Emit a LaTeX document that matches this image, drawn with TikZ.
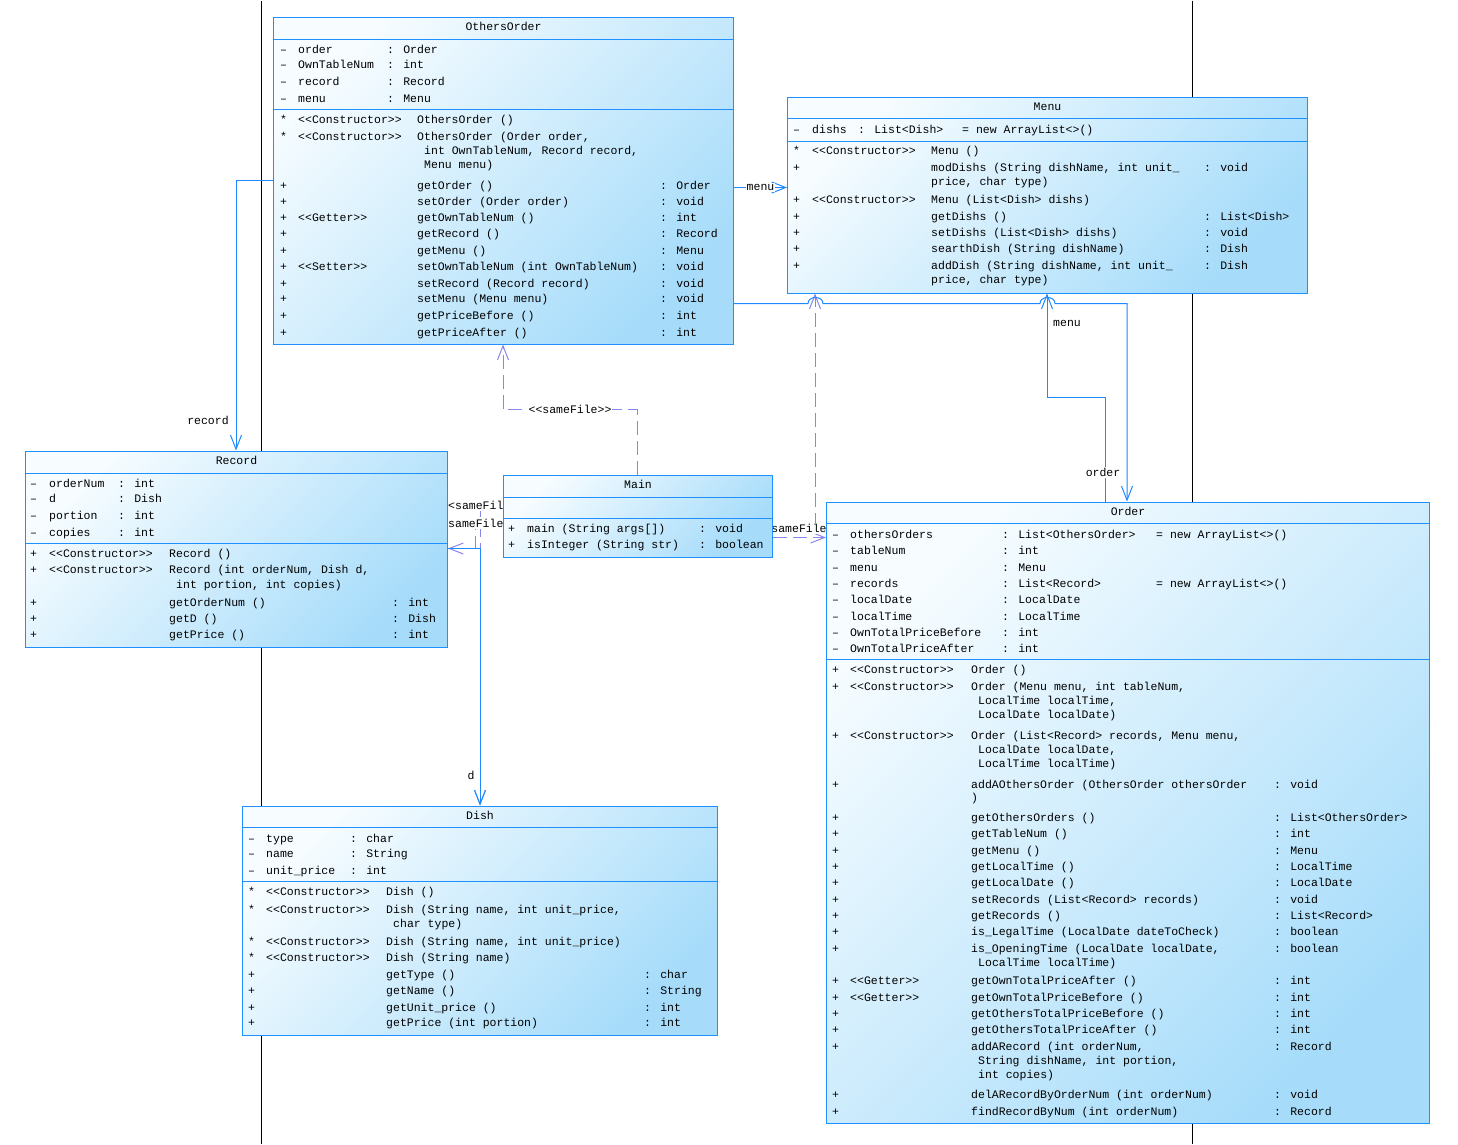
\documentclass[tikz,border=0pt]{standalone}
\usepackage{fontspec}
\usepackage{tikz}
\usetikzlibrary{arrows.meta}

\newfontfamily\umlmono{Liberation Mono}
\newcommand\umlfont{\umlmono\fontsize{11.5}{13}\selectfont}

\definecolor{umlblue}{RGB}{30,144,255}
\definecolor{shadeL}{RGB}{246,252,255}
\definecolor{shadeD}{RGB}{166,220,250}
\definecolor{linkblue}{RGB}{30,136,255}
\definecolor{deplav}{RGB}{136,136,236}

% column positions of the current compartment
\newcommand\setcols[5]{\def\cV{#1}\def\cS{#2}\def\cN{#3}\def\cT{#4}\def\cC{#5}}
\newcommand\urow[5]{%
  \node[txt] (\cls#1a) at (\cV,#1+4) {#2};
  \node[txt] (\cls#1b) at (\cS,#1+4) {#3};
  \node[txt] (\cls#1c) at (\cN,#1+4) {#4};
  \node[txt] (\cls#1d) at (\cT,#1+4) {#5};}
\newcommand\crow[2]{\node[txt] (\cls#1e) at (\cC,#1+4) {#2};}

\begin{document}
\begin{tikzpicture}[x=1pt, y=-1pt,
  cls/.style={draw=umlblue, line width=1pt, top color=shadeL, bottom color=shadeD, shading angle=45, anchor=north west, inner sep=0pt},
  sepl/.style={draw=umlblue, line width=1pt},
  txt/.style={anchor=base west, inner sep=0pt, font=\umlfont},
  ttl/.style={anchor=base, inner sep=0pt, font=\umlfont},
  lbl/.style={fill=white, inner sep=1pt, font=\umlfont},
  assoc/.style={draw=linkblue, line width=1pt, -{Straight Barb[length=14pt, width=11pt]}},
  dep/.style={draw=deplav, line width=1pt, dash pattern=on 14pt off 6pt, -{Straight Barb[length=14pt, width=11pt]}},
  pageln/.style={draw=black, line width=1pt}]
\path[fill=white] (0,0) rectangle (1458,1143);
\draw[pageln] (261,0) -- (261,1143);
\draw[pageln] (1192,0) -- (1192,1143);

% class frames (empty, text goes on top later)
\path (273,16) node[cls, minimum width=460pt, minimum height=327pt] (oo) {}
      (787,96) node[cls, minimum width=520pt, minimum height=196pt] (mn) {}
      (25,450) node[cls, minimum width=422pt, minimum height=196pt] (rc) {}
      (503,474) node[cls, minimum width=269pt, minimum height=82pt] (mc) {}
      (242,805) node[cls, minimum width=475pt, minimum height=229pt] (ds) {}
      (826,501) node[cls, minimum width=603pt, minimum height=621pt] (od) {};

% dependencies from Main
\draw[dep] (637,0 |- mc.north) -- (637,409) -| (503,0 |- oo.south);
\draw[dep] (mc.west |- 0,505) -- (480,505) -- (480,0 |- ds.north);
\draw[dep] (mc.west |- 0,523) -- (475,523) -- (475,548) -- (rc.east |- 0,548);
\draw[dep] (mc.east |- 0,524) -- (815,524) -- (815,0 |- mn.south);
\draw[dep] (mc.east |- 0,537) -- (od.west |- 0,537);
\node[lbl] (sf1) at (570,409) {<<sameFile>>};
\node[lbl, anchor=west] (sf2) at (447,505) {<sameFile};
\node[lbl, anchor=west] (sf3) at (447,523) {sameFile};
\node[lbl] (sf4) at (799,528) {sameFile};

% associations
\draw[assoc] (oo.west |- 0,180) -| (236,0 |- rc.north);
\node[lbl] (lrec) at (208,420) {record};
\draw[assoc] (oo.east |- 0,187) -- (mn.west |- 0,187) node[lbl, midway] (lmn1) {menu};
\draw[assoc] (1105,0 |- od.north) -- (1105,397) -| (1047,0 |- mn.south);
\node[lbl] (lmn2) at (1067,323) {menu};
\draw[assoc] (oo.east |- 0,303) -- (808,303) .. controls (808,295) and (823,295) .. (823,303)
  -- (1040,303) .. controls (1040,295) and (1055,295) .. (1055,303) -| (1127,0 |- od.north);
\node[lbl] (lord) at (1103,472) {order};
\draw[assoc] (rc.east |- 0,548) -| (480,0 |- ds.north);
\node[lbl] (ld) at (471,775) {d};

% redraw frames over the connectors
\path (273,16) node[cls, minimum width=460pt, minimum height=327pt] {}
      (787,96) node[cls, minimum width=520pt, minimum height=196pt] {}
      (25,450) node[cls, minimum width=422pt, minimum height=196pt] {}
      (503,474) node[cls, minimum width=269pt, minimum height=82pt] {}
      (242,805) node[cls, minimum width=475pt, minimum height=229pt] {}
      (826,501) node[cls, minimum width=603pt, minimum height=621pt] {};

% OthersOrder
\def\cls{oo}
\node[ttl] (ootitle) at (oo.north |- 0,30) {OthersOrder};
\draw[sepl] (oo.west |- 0,39) -- (oo.east |- 0,39);
\draw[sepl] (oo.west |- 0,109) -- (oo.east |- 0,109);
\setcols{280}{298}{387}{0}{0}
\urow{49}{–}{order}{: Order}{}
\urow{64}{–}{OwnTableNum}{: int}{}
\urow{81}{–}{record}{: Record}{}
\urow{98}{–}{menu}{: Menu}{}
\setcols{280}{298}{417}{660}{424}
\urow{119}{*}{<<Constructor>>}{OthersOrder ()}{}
\urow{136}{*}{<<Constructor>>}{OthersOrder (Order order,}{}
\crow{150}{int OwnTableNum, Record record,}
\crow{164}{Menu menu)}
\urow{185}{+}{}{getOrder ()}{: Order}
\urow{201}{+}{}{setOrder (Order order)}{: void}
\urow{217}{+}{<<Getter>>}{getOwnTableNum ()}{: int}
\urow{233}{+}{}{getRecord ()}{: Record}
\urow{250}{+}{}{getMenu ()}{: Menu}
\urow{266}{+}{<<Setter>>}{setOwnTableNum (int OwnTableNum)}{: void}
\urow{283}{+}{}{setRecord (Record record)}{: void}
\urow{298}{+}{}{setMenu (Menu menu)}{: void}
\urow{315}{+}{}{getPriceBefore ()}{: int}
\urow{332}{+}{}{getPriceAfter ()}{: int}

% Menu
\def\cls{mn}
\node[ttl] (mntitle) at (mn.north |- 0,110) {Menu};
\draw[sepl] (mn.west |- 0,118) -- (mn.east |- 0,118);
\draw[sepl] (mn.west |- 0,141) -- (mn.east |- 0,141);
\setcols{793}{812}{858}{962}{0}
\urow{129}{–}{dishs}{: List<Dish>}{= new ArrayList<>()}
\setcols{793}{812}{931}{1204}{931}
\urow{150}{*}{<<Constructor>>}{Menu ()}{}
\urow{167}{+}{}{modDishs (String dishName, int unit\_}{: void}
\crow{181}{price, char type)}
\urow{199}{+}{<<Constructor>>}{Menu (List<Dish> dishs)}{}
\urow{216}{+}{}{getDishs ()}{: List<Dish>}
\urow{232}{+}{}{setDishs (List<Dish> dishs)}{: void}
\urow{248}{+}{}{searthDish (String dishName)}{: Dish}
\urow{265}{+}{}{addDish (String dishName, int unit\_}{: Dish}
\crow{279}{price, char type)}

% Record
\def\cls{rc}
\node[ttl] (rctitle) at (rc.north |- 0,464) {Record};
\draw[sepl] (rc.west |- 0,473) -- (rc.east |- 0,473);
\draw[sepl] (rc.west |- 0,543) -- (rc.east |- 0,543);
\setcols{30}{49}{118}{0}{0}
\urow{483}{–}{orderNum}{: int}{}
\urow{498}{–}{d}{: Dish}{}
\urow{515}{–}{portion}{: int}{}
\urow{532}{–}{copies}{: int}{}
\setcols{30}{49}{169}{392}{176}
\urow{553}{+}{<<Constructor>>}{Record ()}{}
\urow{569}{+}{<<Constructor>>}{Record (int orderNum, Dish d,}{}
\crow{584}{int portion, int copies)}
\urow{602}{+}{}{getOrderNum ()}{: int}
\urow{618}{+}{}{getD ()}{: Dish}
\urow{634}{+}{}{getPrice ()}{: int}

% Main
\def\cls{mc}
\node[ttl] (mctitle) at (mc.north |- 0,488) {Main};
\draw[sepl] (mc.west |- 0,497) -- (mc.east |- 0,497);
\draw[sepl] (mc.west |- 0,518) -- (mc.east |- 0,518);
\setcols{508}{527}{699}{0}{0}
\urow{528}{+}{main (String args[])}{: void}{}
\urow{544}{+}{isInteger (String str)}{: boolean}{}

% Dish
\def\cls{ds}
\node[ttl] (dstitle) at (ds.north |- 0,819) {Dish};
\draw[sepl] (ds.west |- 0,827) -- (ds.east |- 0,827);
\draw[sepl] (ds.west |- 0,881) -- (ds.east |- 0,881);
\setcols{248}{266}{350}{0}{0}
\urow{838}{–}{type}{: char}{}
\urow{853}{–}{name}{: String}{}
\urow{870}{–}{unit\_price}{: int}{}
\setcols{248}{266}{386}{644}{393}
\urow{891}{*}{<<Constructor>>}{Dish ()}{}
\urow{909}{*}{<<Constructor>>}{Dish (String name, int unit\_price,}{}
\crow{923}{char type)}
\urow{941}{*}{<<Constructor>>}{Dish (String name, int unit\_price)}{}
\urow{957}{*}{<<Constructor>>}{Dish (String name)}{}
\urow{974}{+}{}{getType ()}{: char}
\urow{990}{+}{}{getName ()}{: String}
\urow{1007}{+}{}{getUnit\_price ()}{: int}
\urow{1022}{+}{}{getPrice (int portion)}{: int}

% Order
\def\cls{od}
\node[ttl] (odtitle) at (od.north |- 0,515) {Order};
\draw[sepl] (od.west |- 0,523) -- (od.east |- 0,523);
\draw[sepl] (od.west |- 0,659) -- (od.east |- 0,659);
\setcols{832}{850}{1002}{1156}{0}
\urow{534}{–}{othersOrders}{: List<OthersOrder>}{= new ArrayList<>()}
\urow{550}{–}{tableNum}{: int}{}
\urow{567}{–}{menu}{: Menu}{}
\urow{583}{–}{records}{: List<Record>}{= new ArrayList<>()}
\urow{599}{–}{localDate}{: LocalDate}{}
\urow{616}{–}{localTime}{: LocalTime}{}
\urow{632}{–}{OwnTotalPriceBefore}{: int}{}
\urow{648}{–}{OwnTotalPriceAfter}{: int}{}
\setcols{832}{850}{971}{1274}{978}
\urow{669}{+}{<<Constructor>>}{Order ()}{}
\urow{686}{+}{<<Constructor>>}{Order (Menu menu, int tableNum,}{}
\crow{700}{LocalTime localTime,}
\crow{714}{LocalDate localDate)}
\urow{735}{+}{<<Constructor>>}{Order (List<Record> records, Menu menu,}{}
\crow{749}{LocalDate localDate,}
\crow{763}{LocalTime localTime)}
\urow{784}{+}{}{addAOthersOrder (OthersOrder othersOrder}{: void}
\urow{797}{}{}{)}{}
\urow{817}{+}{}{getOthersOrders ()}{: List<OthersOrder>}
\urow{833}{+}{}{getTableNum ()}{: int}
\urow{850}{+}{}{getMenu ()}{: Menu}
\urow{866}{+}{}{getLocalTime ()}{: LocalTime}
\urow{882}{+}{}{getLocalDate ()}{: LocalDate}
\urow{899}{+}{}{setRecords (List<Record> records)}{: void}
\urow{915}{+}{}{getRecords ()}{: List<Record>}
\urow{931}{+}{}{is\_LegalTime (LocalDate dateToCheck)}{: boolean}
\urow{948}{+}{}{is\_OpeningTime (LocalDate localDate,}{: boolean}
\crow{962}{LocalTime localTime)}
\urow{980}{+}{<<Getter>>}{getOwnTotalPriceAfter ()}{: int}
\urow{997}{+}{<<Getter>>}{getOwnTotalPriceBefore ()}{: int}
\urow{1013}{+}{}{getOthersTotalPriceBefore ()}{: int}
\urow{1029}{+}{}{getOthersTotalPriceAfter ()}{: int}
\urow{1046}{+}{}{addARecord (int orderNum,}{: Record}
\crow{1060}{String dishName, int portion,}
\crow{1074}{int copies)}
\urow{1094}{+}{}{delARecordByOrderNum (int orderNum)}{: void}
\urow{1111}{+}{}{findRecordByNum (int orderNum)}{: Record}
\end{tikzpicture}
\end{document}
